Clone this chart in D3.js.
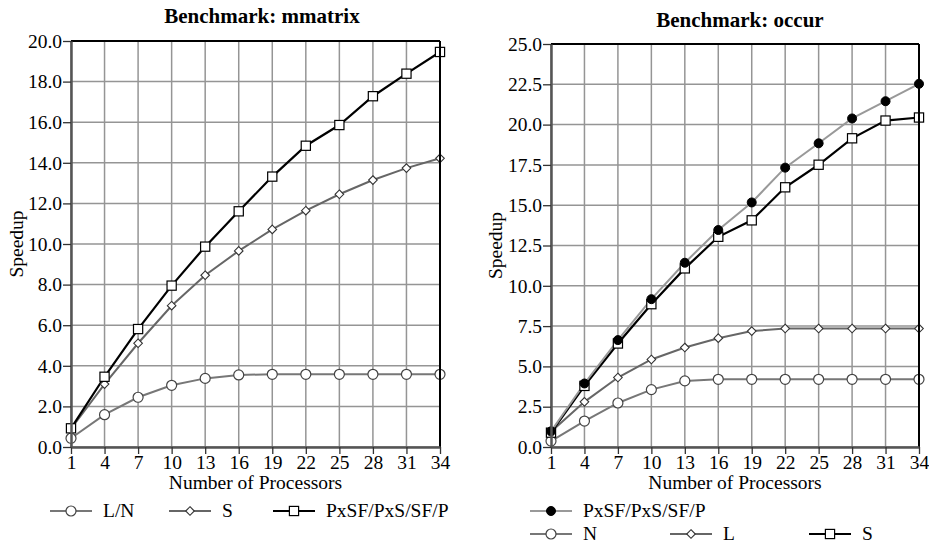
<!DOCTYPE html>
<html>
<head>
<meta charset="utf-8">
<script src="https://cdn.jsdelivr.net/npm/d3@7"></script>
<style>
  body { margin: 0; background: #fff; }
</style>
</head>
<body>
<svg id="chart" width="929" height="544"></svg>
<script>
var serif = "'Liberation Serif'"
var fs = "19.5px"

// processors on the x axis
var procs = [1, 4, 7, 10, 13, 16, 19, 22, 25, 28, 31, 34]

// mmatrix
var mmLN = [0.43, 1.59, 2.45, 3.04, 3.38, 3.55, 3.58, 3.58, 3.58, 3.58, 3.58, 3.58]
var mmS = [0.9, 3.10, 5.11, 6.96, 8.46, 9.66, 10.72, 11.64, 12.45, 13.15, 13.74, 14.22]
var mmP = [0.92, 3.46, 5.81, 7.95, 9.87, 11.61, 13.32, 14.84, 15.86, 17.28, 18.39, 19.46]
var mmTicks = [0, 2, 4, 6, 8, 10, 12, 14, 16, 18, 20]

// occur
var ocP = [0.97, 3.94, 6.63, 9.17, 11.43, 13.46, 15.17, 17.33, 18.84, 20.38, 21.45, 22.53]
var ocN = [0.37, 1.61, 2.73, 3.56, 4.10, 4.20, 4.20, 4.20, 4.20, 4.20, 4.20, 4.20]
var ocL = [0.95, 2.80, 4.31, 5.43, 6.17, 6.75, 7.19, 7.35, 7.35, 7.35, 7.35, 7.35]
var ocS = [0.89, 3.79, 6.42, 8.86, 11.08, 13.04, 14.06, 16.11, 17.51, 19.15, 20.25, 20.44]
var ocTicks = [0, 2.5, 5, 7.5, 10, 12.5, 15, 17.5, 20, 22.5, 25]

var svg = d3.select("#chart")

// marker shapes
function drawMarker(g, type, cx, cy) {
	if (type == "circle") {
		g.append("circle").attr("cx", cx).attr("cy", cy).attr("r", 5)
			.attr("fill", "white").attr("stroke", "#444").attr("stroke-width", 1.2)
	} else if (type == "dot") {
		g.append("circle").attr("cx", cx).attr("cy", cy).attr("r", 4.5)
			.attr("fill", "black").attr("stroke", "black")
	} else if (type == "diamond") {
		var s = 4.3
		g.append("path")
			.attr("d", "M" + cx + "," + (cy - s) + "L" + (cx + s) + "," + cy + "L" + cx + "," + (cy + s) + "L" + (cx - s) + "," + cy + "Z")
			.attr("fill", "white").attr("stroke", "#333").attr("stroke-width", 1.1)
	} else if (type == "square") {
		var h = 4.6
		g.append("rect").attr("x", cx - h).attr("y", cy - h).attr("width", h * 2).attr("height", h * 2)
			.attr("fill", "white").attr("stroke", "black").attr("stroke-width", 1.2)
	}
}

function label(g) {
	return g.append("text").style("font-family", serif).style("font-size", fs).attr("fill", "black")
}

function drawChart(cfg) {
	var x = d3.scaleLinear().domain([1, 34]).range([cfg.left, cfg.right])
	var y = d3.scaleLinear().domain([0, cfg.ymax]).range([cfg.bottom, cfg.top])
	var g = svg.append("g")

	// grid
	g.selectAll(".vg").data(procs).enter().append("line")
		.attr("x1", function(d) { return x(d) }).attr("x2", function(d) { return x(d) })
		.attr("y1", cfg.top).attr("y2", cfg.bottom)
		.attr("stroke", "#959595").attr("stroke-width", 1.5)
	g.selectAll(".hg").data(cfg.yticks).enter().append("line")
		.attr("x1", cfg.left).attr("x2", cfg.right)
		.attr("y1", function(d) { return y(d) }).attr("y2", function(d) { return y(d) })
		.attr("stroke", "#959595").attr("stroke-width", 1.5)

	// series
	var line = d3.line()
		.x(function(d, i) { return x(procs[i]) })
		.y(function(d) { return y(d) })
	cfg.series.forEach(function(s) {
		g.append("path").datum(s.values).attr("d", line)
			.attr("fill", "none").attr("stroke", s.color).attr("stroke-width", s.width)
	})
	cfg.series.forEach(function(s) {
		var mg = g.append("g")
		s.values.forEach(function(v, i) { drawMarker(mg, s.marker, x(procs[i]), y(v)) })
	})

	// frame top/right
	g.append("line").attr("x1", cfg.left).attr("x2", cfg.right).attr("y1", cfg.top).attr("y2", cfg.top)
		.attr("stroke", "black").attr("stroke-width", 2)
	g.append("line").attr("x1", cfg.right).attr("x2", cfg.right).attr("y1", cfg.top).attr("y2", cfg.bottom)
		.attr("stroke", "black").attr("stroke-width", 2)

	// axes
	var xa = g.append("g").attr("transform", "translate(0," + cfg.bottom + ")")
		.call(d3.axisBottom(x).tickValues(procs).tickSize(7).tickPadding(1).tickSizeOuter(0))
	var ya = g.append("g").attr("transform", "translate(" + cfg.left + ",0)")
		.call(d3.axisLeft(y).tickValues(cfg.yticks).tickFormat(d3.format(".1f")).tickSize(8).tickPadding(1).tickSizeOuter(0))
	;[xa, ya].forEach(function(a) {
		a.select(".domain").attr("stroke", "#555").attr("stroke-width", 2.5)
		a.selectAll(".tick line").attr("stroke", "#333").attr("stroke-width", 1.3)
		a.selectAll(".tick text").attr("fill", "black")
			.style("font-family", serif).style("font-size", fs)
	})

	// titles
	label(g).attr("x", cfg.titleX).attr("y", cfg.titleY).attr("text-anchor", "middle")
		.style("font-weight", "bold").style("font-size", "21px").text(cfg.title)
	label(g).attr("x", (cfg.left + cfg.right) / 2).attr("y", 489).attr("text-anchor", "middle")
		.text("Number of Processors")
	label(g).attr("transform", "translate(" + cfg.ylabX + "," + ((cfg.top + cfg.bottom) / 2) + ") rotate(-90)")
		.attr("text-anchor", "middle").text("Speedup")

	// legend
	cfg.legend.forEach(function(l) {
		var s = cfg.series[l.idx]
		g.append("line").attr("x1", l.x).attr("x2", l.x + 42).attr("y1", l.y).attr("y2", l.y)
			.attr("stroke", s.color).attr("stroke-width", s.width)
		drawMarker(g, s.marker, l.x + 21, l.y)
		label(g).attr("x", l.x + 53).attr("y", l.y + 6).text(s.name)
	})
}

drawChart({
	title: "Benchmark: mmatrix", titleX: 262, titleY: 23,
	left: 71, right: 440, top: 41, bottom: 447, ymax: 20, yticks: mmTicks, ylabX: 23,
	series: [
		{ name: "L/N", values: mmLN, color: "#777", width: 2, marker: "circle" },
		{ name: "S", values: mmS, color: "#666", width: 2, marker: "diamond" },
		{ name: "PxSF/PxS/SF/P", values: mmP, color: "black", width: 2.2, marker: "square" }
	],
	legend: [
		{ idx: 0, x: 50, y: 511 },
		{ idx: 1, x: 169, y: 511 },
		{ idx: 2, x: 273, y: 511 }
	]
})

drawChart({
	title: "Benchmark: occur", titleX: 740, titleY: 27,
	left: 551, right: 919, top: 44, bottom: 447, ymax: 25, yticks: ocTicks, ylabX: 502,
	series: [
		{ name: "N", values: ocN, color: "#777", width: 2, marker: "circle" },
		{ name: "L", values: ocL, color: "#666", width: 2, marker: "diamond" },
		{ name: "S", values: ocS, color: "black", width: 2.2, marker: "square" },
		{ name: "PxSF/PxS/SF/P", values: ocP, color: "#999", width: 2, marker: "dot" }
	],
	legend: [
		{ idx: 3, x: 530, y: 511 },
		{ idx: 0, x: 530, y: 534 },
		{ idx: 1, x: 670, y: 534 },
		{ idx: 2, x: 809, y: 534 }
	]
})
</script>
</body>
</html>
